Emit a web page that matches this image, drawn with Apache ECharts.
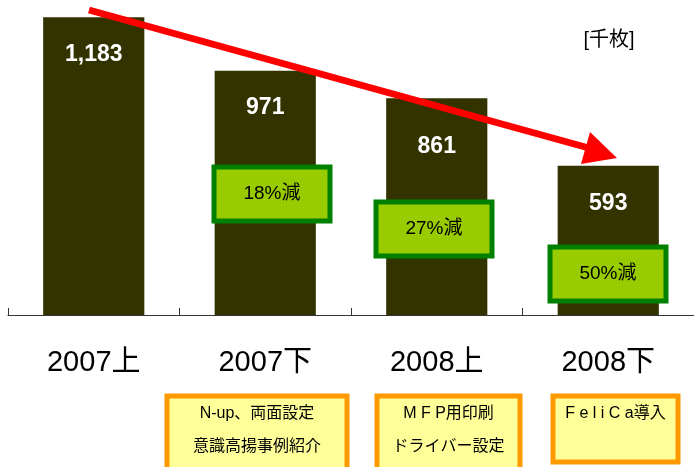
<!DOCTYPE html>
<html>
<head>
<meta charset="utf-8">
<script src="https://cdn.jsdelivr.net/npm/echarts@6/dist/echarts.min.js"></script>
<style>
	html, body { margin: 0; padding: 0; background: #fff; }
	#chartContainer { width: 694px; height: 467px; }
</style>
</head>
<body>
<div id="chartContainer"></div>
<script>
// 期間
var periodArray = ['2007上', '2007下', '2008上', '2008下'];
// 印刷枚数 [千枚]
var printCountArray = [1183, 971, 861, 593];
// 削減率
var reduceLabelArray = ['', '18%減', '27%減', '50%減'];
// 施策
var measureArray = [[], ['N-up、両面設定', '意識高揚事例紹介'], ['M F P用印刷', 'ドライバー設定'], ['F e l i C a導入']];

var FONT = 'Liberation Sans, Arial, Noto Sans CJK JP, sans-serif';

var printCountChart = {
	/**
	 * 削減率ボックス
	 */
	reduceBox : function(cx, cy, text){
		return {
			type: 'group',
			z: 100,
			children: [
				{type: 'rect', z: 100, shape: {x: cx - 58, y: cy - 27, width: 116, height: 54},
					style: {fill: '#99cc00', stroke: '#008000', lineWidth: 5}},
				{type: 'text', z: 101, x: cx, y: cy,
					style: {text: text, font: '19px ' + FONT, fill: '#000', align: 'center', verticalAlign: 'middle'}}
			]
		};
	},
	/**
	 * 施策ボックス
	 */
	measureBox : function(x, w, h, lines){
		var children = [
			{type: 'rect', z: 100, shape: {x: x, y: 396, width: w, height: h},
				style: {fill: '#ffff99', stroke: '#ff9900', lineWidth: 5}}
		];
		for(var i=0; i<lines.length; i++){
			children.push({type: 'text', z: 101, x: x + w / 2, y: 414 + i * 33,
				style: {text: lines[i], font: '16px ' + FONT, fill: '#000', align: 'center', verticalAlign: 'middle'}});
		}
		return {type: 'group', z: 100, children: children};
	},
	/**
	 * 図表表示
	 */
	showChart : function(){
		var myChart = echarts.init(document.getElementById('chartContainer'));
		var barData = [];
		for(var i=0; i<printCountArray.length; i++){
			barData.push({
				value: printCountArray[i],
				label: {distance: i == 2 ? 37 : 26}
			});
		}
		var graphics = [
			// 矢印
			{type: 'line', z: 110, shape: {x1: 89, y1: 10, x2: 596, y2: 150},
				style: {stroke: '#ff0000', lineWidth: 7}},
			{type: 'polygon', z: 110, shape: {points: [[617, 158], [590, 132], [581, 164]]},
				style: {fill: '#ff0000'}},
			{type: 'text', z: 100, x: 609, y: 40,
				style: {text: '[千枚]', font: '20px ' + FONT, fill: '#000', align: 'center', verticalAlign: 'middle'}},
			printCountChart.reduceBox(272, 194, reduceLabelArray[1]),
			printCountChart.reduceBox(434, 229, reduceLabelArray[2]),
			printCountChart.reduceBox(608, 274, reduceLabelArray[3]),
			printCountChart.measureBox(167, 180, 80, measureArray[1]),
			printCountChart.measureBox(377, 143, 80, measureArray[2]),
			printCountChart.measureBox(553, 125, 66, measureArray[3])
		];
		var option = {
			animation: false,
			grid: {left: 8, right: -2, top: 13, bottom: 152, containLabel: false},
			xAxis: {
				type: 'category',
				data: periodArray,
				axisLine: {lineStyle: {color: '#333', width: 1}},
				axisTick: {show: true, inside: true, length: 7, alignWithLabel: false, lineStyle: {color: '#333'}},
				axisLabel: {margin: 33, fontSize: 29, color: '#000', fontFamily: FONT}
			},
			yAxis: {
				type: 'value',
				min: 0,
				max: 1200,
				show: false,
				splitLine: {show: false}
			},
			series: [{
				type: 'bar',
				data: barData,
				barWidth: '59%',
				itemStyle: {color: '#333300'},
				label: {
					show: true,
					position: 'insideTop',
					color: '#fff',
					fontSize: 23,
					fontWeight: 'bold',
					fontFamily: FONT,
					formatter: function(p){ return p.value.toLocaleString('en-US'); }
				}
			}],
			graphic: graphics
		};
		myChart.setOption(option);
	}
};

printCountChart.showChart();
</script>
</body>
</html>
